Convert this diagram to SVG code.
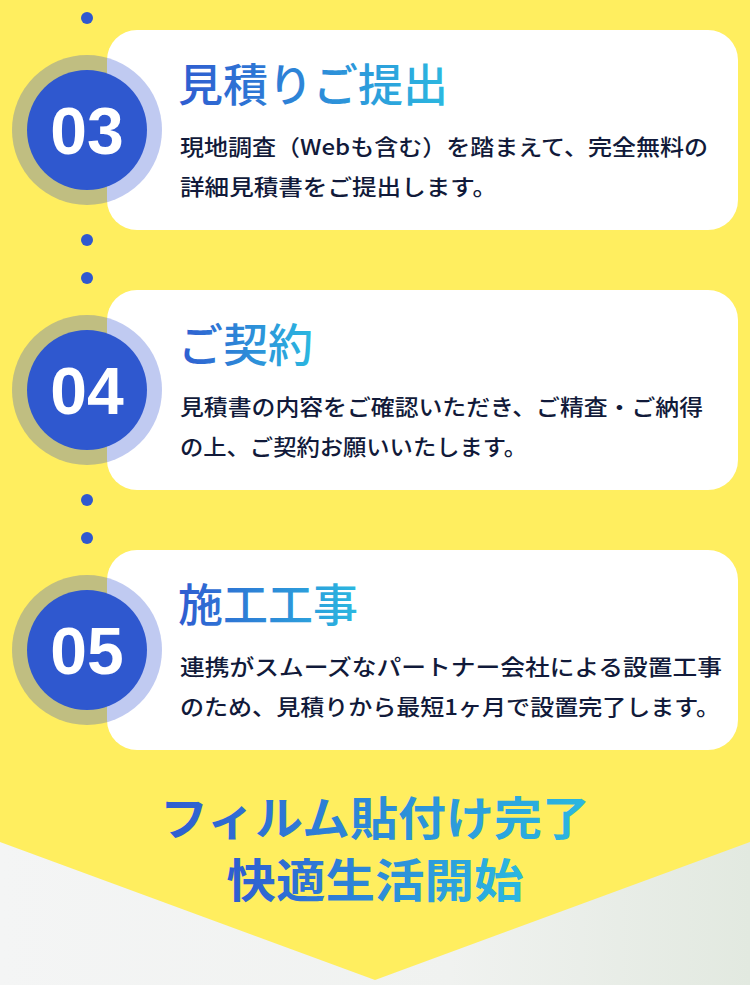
<svg xmlns="http://www.w3.org/2000/svg" width="750" height="985" viewBox="0 0 750 985">
<defs>
<linearGradient id="tg" x1="0" y1="0" x2="1" y2="0"><stop offset="0" stop-color="#2f5cd0"/><stop offset="1" stop-color="#2bb8e0"/></linearGradient>
<linearGradient id="bg" x1="0" y1="0" x2="1" y2="0"><stop offset="0" stop-color="#f4f5f5"/><stop offset="0.6" stop-color="#f0f2f0"/><stop offset="1" stop-color="#e2e9e0"/></linearGradient>
<style>
.card{fill:#fff}
.ring{fill:#3050d0;fill-opacity:0.3}
.core{fill:#2f58cf}
.num{font-family:"Liberation Sans",Arial,sans-serif;font-weight:bold;font-size:66px;fill:#fff;text-anchor:middle}
.title{font-family:"Noto Sans CJK JP",sans-serif;font-weight:500;font-size:45px;fill:url(#tg)}
.body{font-family:"Noto Sans CJK JP",sans-serif;font-weight:500;font-size:22px;fill:#111a3a}
.end{font-family:"Noto Sans CJK JP",sans-serif;font-weight:bold;font-size:46px;fill:url(#tg);text-anchor:middle}
.dot{fill:#2f58cf}
</style>
</defs>
<rect width="750" height="985" fill="url(#bg)"/>
<polygon points="0,0 750,0 750,842 375,980 0,842" fill="#ffee5f"/>
<g id="connectors">
<circle class="dot" cx="87" cy="18" r="6"/>
<circle class="dot" cx="87" cy="240" r="6"/>
<circle class="dot" cx="87" cy="278" r="6"/>
<circle class="dot" cx="87" cy="500" r="6"/>
<circle class="dot" cx="87" cy="538" r="6"/>
</g>
<g id="step03">
<rect class="card" x="107" y="30" width="631" height="200" rx="30"/>
<circle class="ring" cx="87" cy="130" r="75"/>
<circle class="core" cx="87" cy="130" r="60"/>
<text class="num" x="87" y="154">03</text>
<text class="title" x="178" y="102">見積りご提出</text>
<text class="body" x="180" y="155" textLength="528" lengthAdjust="spacingAndGlyphs">現地調査（Webも含む）を踏まえて、完全無料の</text>
<text class="body" x="180" y="195" textLength="317" lengthAdjust="spacingAndGlyphs">詳細見積書をご提出します。</text>
</g>
<g id="step04">
<rect class="card" x="107" y="290" width="631" height="200" rx="30"/>
<circle class="ring" cx="87" cy="390" r="75"/>
<circle class="core" cx="87" cy="390" r="60"/>
<text class="num" x="87" y="414">04</text>
<text class="title" x="178" y="362">ご契約</text>
<text class="body" x="180" y="415" textLength="523" lengthAdjust="spacingAndGlyphs">見積書の内容をご確認いただき、ご精査・ご納得</text>
<text class="body" x="180" y="455" textLength="347" lengthAdjust="spacingAndGlyphs">の上、ご契約お願いいたします。</text>
</g>
<g id="step05">
<rect class="card" x="107" y="550" width="631" height="200" rx="30"/>
<circle class="ring" cx="87" cy="650" r="75"/>
<circle class="core" cx="87" cy="650" r="60"/>
<text class="num" x="87" y="674">05</text>
<text class="title" x="178" y="622">施工工事</text>
<text class="body" x="180" y="675" textLength="542" lengthAdjust="spacingAndGlyphs">連携がスムーズなパートナー会社による設置工事</text>
<text class="body" x="180" y="715" textLength="540" lengthAdjust="spacingAndGlyphs">のため、見積りから最短1ヶ月で設置完了します。</text>
</g>
<g id="final">
<text class="end" x="375" y="835" textLength="430" lengthAdjust="spacingAndGlyphs">フィルム貼付け完了</text>
<text class="end" x="375" y="897" textLength="297" lengthAdjust="spacingAndGlyphs">快適生活開始</text>
</g>
</svg>
